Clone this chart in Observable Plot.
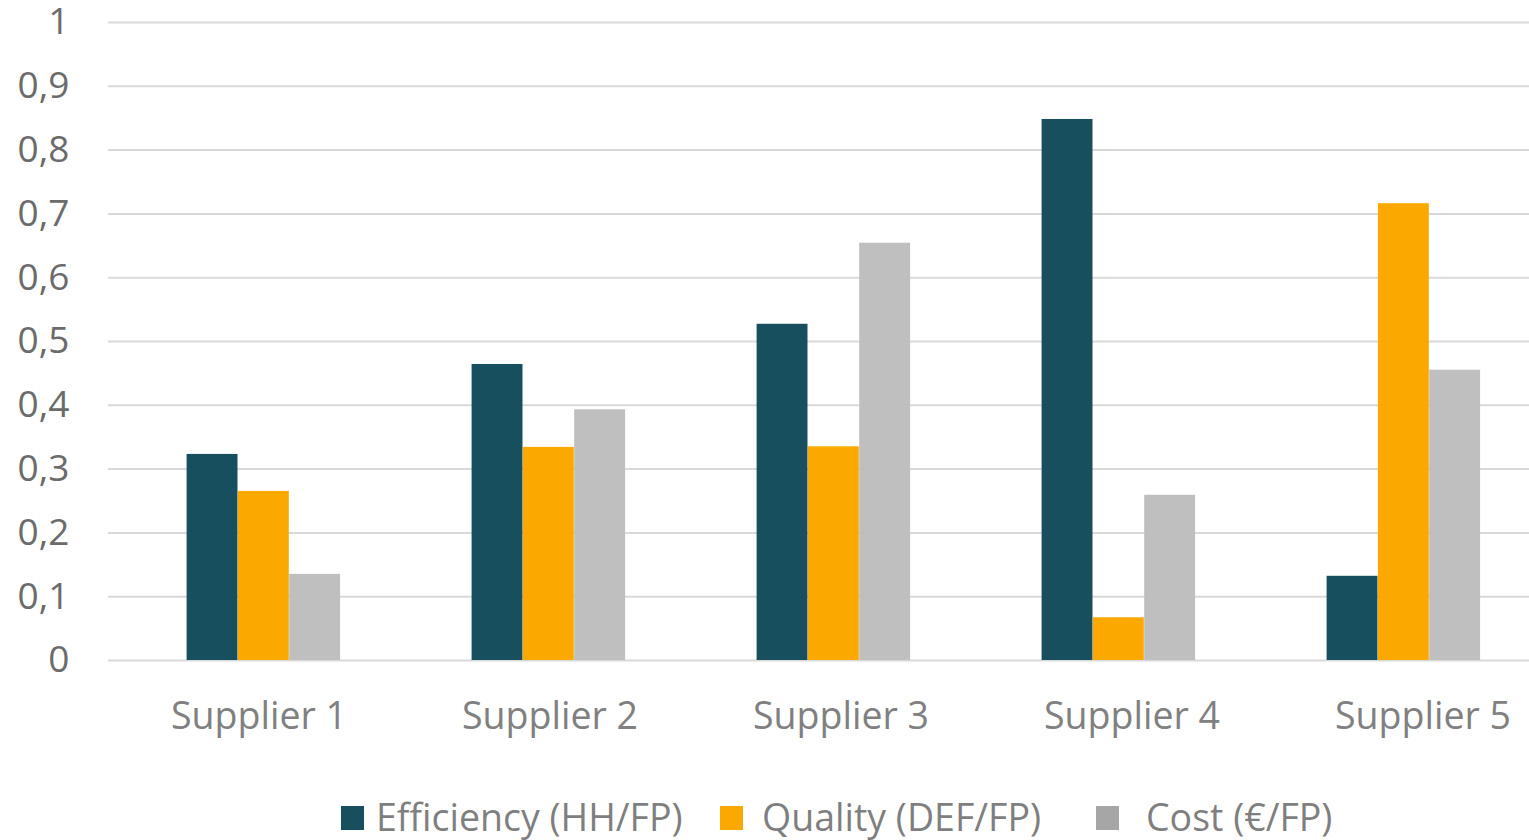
<!DOCTYPE html>
<html>
<head>
<meta charset="utf-8">
<script src="https://cdn.jsdelivr.net/npm/d3@7"></script>
<script src="https://cdn.jsdelivr.net/npm/@observablehq/plot@0.6"></script>
<style>
  html, body { margin: 0; padding: 0; background: #fff; overflow: hidden; }
  #wrap { position: relative; width: 1529px; height: 840px; font-family: "Open Sans", sans-serif; }
  #chart, #labels { position: absolute; left: 0; top: 0; }
  #legend { position: absolute; left: 0; top: 760px; width: 1529px; height: 80px; }
  .item { position: absolute; top: 0; height: 80px; }
  .sw { position: absolute; top: 46px; width: 23px; height: 24px; }
  .lb { position: absolute; top: 31px; font-size: 37.5px; line-height: 51px; color: #7f7f7f; white-space: nowrap; }
</style>
</head>
<body>
<div id="wrap"><div id="chart"></div><div id="labels"></div><div id="legend"></div></div>
<script>
const suppliers = ["Supplier 1", "Supplier 2", "Supplier 3", "Supplier 4", "Supplier 5"];
const seriesNames = ["Efficiency (HH/FP)", "Quality (DEF/FP)", "Cost (€/FP)"];
const efficiency = [0.323, 0.464, 0.527, 0.848, 0.132];
const quality = [0.265, 0.334, 0.335, 0.067, 0.716];
const cost = [0.135, 0.393, 0.654, 0.259, 0.455];
const yTicks = [0, 0.1, 0.2, 0.3, 0.4, 0.5, 0.6, 0.7, 0.8, 0.9, 1];
const colors = ["#184f5f", "#fba900", "#bfbfbf"];
const legendSwatch = ["#184f5f", "#fba900", "#a6a6a6"];

const seriesValues = [efficiency, quality, cost];
const data = [];
seriesNames.forEach((s, i) => suppliers.forEach((sup, j) => data.push({supplier: sup, series: s, value: seriesValues[i][j]})));

// inset layout inside each 285px band: three adjacent bars of ~51px centred
const insets = [[65.6, 168.5], [116.9, 117.2], [168.2, 65.9]];

const common = {
  width: 1529,
  height: 760,
  marginLeft: 108,
  marginRight: 0,
  marginTop: 22,
  marginBottom: 100,
  style: {fontFamily: "Open Sans, sans-serif", fontSize: "37.5px", color: "#767676", background: "transparent", overflow: "visible"}
};

const chart = Plot.plot({
  ...common,
  x: {type: "band", domain: suppliers, range: [120, 1547], padding: 0, axis: null, label: null},
  y: {domain: [0, 1], label: null},
  marks: [
    Plot.ruleY(yTicks, {stroke: "#d9d9d9", strokeWidth: 2}),
    ...seriesNames.map((s, i) => Plot.barY(data.filter(d => d.series === s), {
      x: "supplier", y: "value", fill: colors[i], insetLeft: insets[i][0], insetRight: insets[i][1]
    })),
    Plot.axisY({ticks: yTicks, tickSize: 0, tickPadding: 39, tickFormat: d => String(d).replace(".", ","), fill: "#6b6b6b", fontSize: 37, label: null})
  ]
});
document.getElementById("chart").appendChild(chart);

// category labels (spaced slightly wider than the bar groups, as in the source)
const labels = Plot.plot({
  ...common,
  x: {type: "band", domain: suppliers, range: [111, 1570], padding: 0, label: null},
  y: {domain: [0, 1], axis: null, label: null},
  marks: [
    Plot.axisX({tickSize: 0, tickPadding: 42, fill: "#808080", fontSize: 37.5, label: null})
  ]
});
document.getElementById("labels").appendChild(labels);

const legend = document.getElementById("legend");
const legendLeft = [341, 720, 1096];
const legendGap = [12, 19, 27];
seriesNames.forEach((s, i) => {
  const it = document.createElement("div");
  it.className = "item";
  it.style.left = legendLeft[i] + "px";
  const sw = document.createElement("div");
  sw.className = "sw";
  sw.style.left = "0px";
  sw.style.background = legendSwatch[i];
  const lb = document.createElement("div");
  lb.className = "lb";
  lb.style.left = (23 + legendGap[i]) + "px";
  lb.textContent = s;
  it.appendChild(sw); it.appendChild(lb);
  legend.appendChild(it);
});
</script>
</body>
</html>
